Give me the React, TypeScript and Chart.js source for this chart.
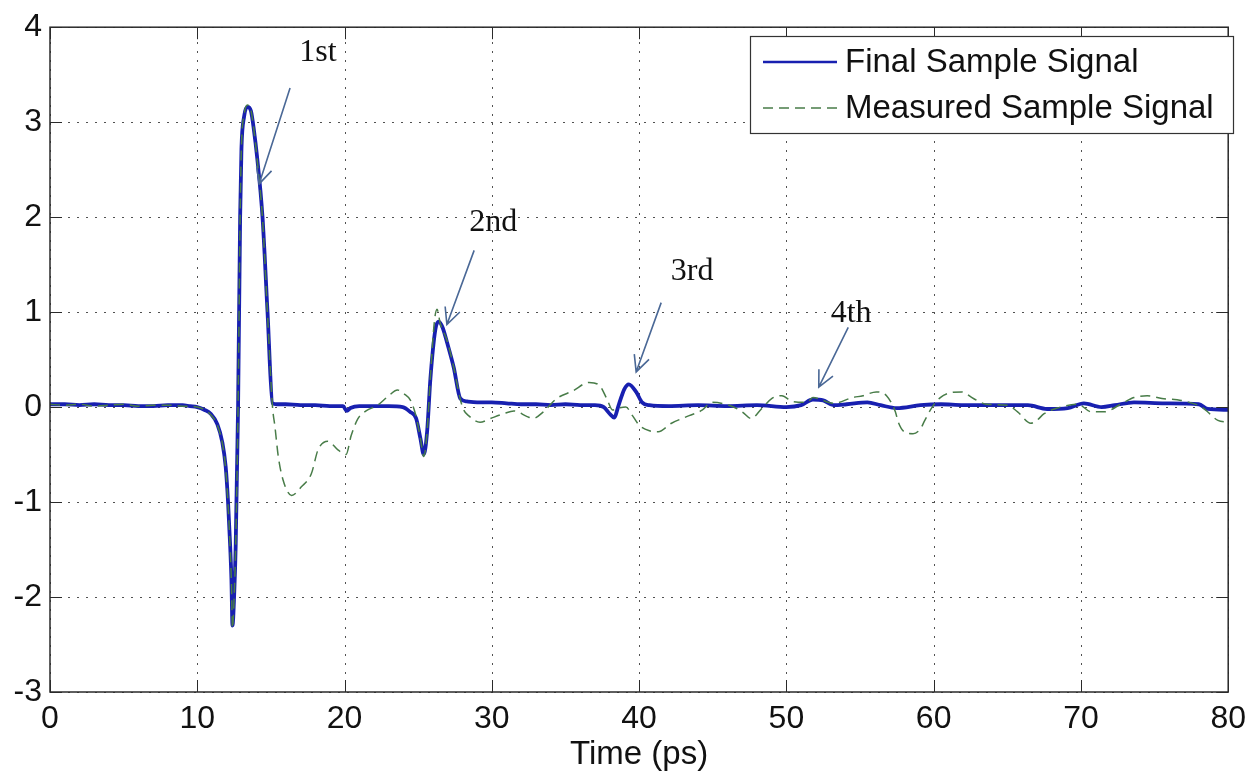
import React, { useEffect, useRef } from "react";
import { Chart, registerables } from "chart.js";

Chart.register(...registerables);

// ---------- data ----------
const finalTime = [
  0, 1, 2, 3, 4, 5, 6, 7, 8, 9, 9.5, 10, 10.5, 10.91, 11.36, 11.7, 11.93, 12.09, 12.23, 12.32,
  12.39, 12.5, 12.61, 12.77, 12.91, 13.0, 13.18, 13.41, 13.64, 13.86, 14.05, 14.43, 14.77, 15.11,
  15.4, 16, 17, 18, 19, 19.9, 20.15, 20.4, 21, 22, 23, 23.95, 24.45, 24.86, 25.15, 25.38, 25.61,
  25.83, 26.17, 26.4, 26.65, 26.96, 27.41, 27.86, 28.31, 29, 30, 31, 32, 33, 34, 35, 36, 37, 37.6,
  38.0, 38.3, 38.65, 39.0, 39.3, 39.8, 40.2, 40.7, 42, 44, 46, 48, 50, 51.0, 51.8, 52.5, 53.2,
  54.1, 55.5, 56.4, 57.5, 59.1, 60.5, 62, 63.2, 65, 66.4, 67.7, 69.1, 70.2, 71.4, 72.3, 73.6,
  75.7, 78, 78.6, 80,
];
const finalValue = [
  0.03, 0.03, 0.02, 0.03, 0.02, 0.02, 0.01, 0.01, 0.02, 0.02, 0.01, 0.0, -0.03, -0.07, -0.18, -0.37, -0.63, -1.0, -1.45, -1.82,
  -2.3, -2.0, -1.45, 0.0, 2.0, 2.72, 3.06, 3.16, 3.12, 2.9, 2.65, 2.0, 1.0, 0.04,
  0.03, 0.03, 0.02, 0.02, 0.01, 0.01, -0.04, -0.01, 0.01, 0.01, 0.01, 0.0, -0.05, -0.12, -0.33, -0.5, -0.25,
  0.3, 0.82, 0.9, 0.84, 0.68, 0.42, 0.09, 0.06, 0.05, 0.05, 0.04, 0.03, 0.03, 0.02, 0.03, 0.02, 0.02, 0.0,
  -0.07, -0.11, 0.04, 0.19, 0.24, 0.16, 0.05, 0.02, 0.01, 0.02, 0.01, 0.02, 0.0, 0.02, 0.08, 0.07, 0.02,
  0.03, 0.05, 0.02, -0.01, 0.02, 0.03, 0.02, 0.02, 0.02, 0.02, -0.02, -0.01, 0.04, 0.0, 0.02, 0.05,
  0.04, 0.03, -0.02, -0.03,
];
const measuredTime = [
  0, 1, 2, 3, 4, 5, 6, 7, 8, 9, 10, 10.5, 10.91, 11.36, 11.7, 11.93, 12.09, 12.23, 12.32, 12.39,
  12.5, 12.61, 12.77, 12.91, 13.0, 13.18, 13.41, 13.64, 13.86, 14.05, 14.43, 14.77, 15.11, 15.27,
  15.5, 15.83, 16.4, 17.07, 17.75, 18.2, 18.87, 19.55, 20.1, 20.45, 20.9, 21.46, 22.25, 22.93,
  23.6, 24.03, 24.48, 24.86, 25.15, 25.38, 25.61, 25.83, 26.1, 26.28, 26.5, 26.96, 27.41, 27.86,
  28.09, 28.42, 29.2, 29.9, 30.8, 31.5, 32.4, 32.8, 33.5, 34.4, 35.5, 36.6, 37.3, 37.8, 38.2,
  38.6, 39.1, 39.55, 40.0, 40.7, 41.3, 42.2, 43.4, 44.3, 44.9, 46.1, 47.0, 47.6, 48.3, 49.0, 49.7,
  50.4, 51.4, 51.8, 53.2, 54.5, 55.2, 56.1, 56.8, 57.4, 57.6, 58.0, 58.6, 59.1, 59.4, 59.9, 60.45,
  61.1, 61.9, 62.7, 63.6, 65.0, 65.7, 66.6, 67.0, 67.5, 68.4, 69.8, 70.7, 71.6, 72.7, 73.6, 74.5,
  75.5, 76.8, 78.2, 79.3, 80,
];
const measuredValue = [
  0.03, 0.02, 0.03, 0.01, 0.02, 0.03, 0.01, 0.02, 0.02, 0.01, 0.0, -0.03, -0.08, -0.19, -0.38, -0.65, -1.02, -1.48, -1.85, -2.33,
  -2.02, -1.45, 0.0, 2.02, 2.75, 3.08, 3.18, 3.13, 2.9, 2.63, 1.98, 0.98, 0.0, -0.2,
  -0.52, -0.77, -0.93, -0.84, -0.7, -0.45, -0.36, -0.45, -0.5, -0.3, -0.125, -0.04, 0.02, 0.11,
  0.18, 0.14, 0.07, -0.1, -0.33, -0.52, -0.25, 0.32, 0.9, 1.03, 0.88, 0.7, 0.42, 0.08,
  -0.03, -0.09, -0.16, -0.12, -0.07, -0.04, -0.1, -0.12, -0.05, 0.09, 0.17, 0.26, 0.23, 0.09, -0.03,
  -0.01, 0.0, -0.09, -0.19, -0.25, -0.26, -0.17, -0.09, -0.03, 0.05, 0.02, -0.05, -0.12, -0.02, 0.09, 0.12,
  0.06, 0.05, 0.1, 0.04, 0.1, 0.12, 0.16, 0.12, -0.05, -0.16, -0.26, -0.28, -0.23, -0.14, 0.0, 0.1,
  0.15, 0.16, 0.09, 0.03, 0.02, -0.05, -0.17, -0.14, -0.07, -0.01, 0.03, -0.05, -0.05, 0.03, 0.1, 0.12,
  0.09, 0.07, 0.0, -0.14, -0.16,
];
const seriesLabels = ["Final Sample Signal", "Measured Sample Signal"];
const xTickValues = [0, 10, 20, 30, 40, 50, 60, 70, 80];
const yTickValues = [-3, -2, -1, 0, 1, 2, 3, 4];
const xAxisTitle = "Time (ps)";
const peakLabels = ["1st", "2nd", "3rd", "4th"];

// annotation geometry (data units)
const peakTextAt = [
  [18.2, 3.73],
  [30.1, 1.94],
  [43.6, 1.43],
  [54.4, 0.98],
];
const peakArrowFrom = [
  [16.3, 3.36],
  [28.8, 1.65],
  [41.5, 1.1],
  [54.2, 0.84],
];
const peakArrowTo = [
  [14.2, 2.35],
  [26.95, 0.87],
  [39.8, 0.37],
  [52.2, 0.21],
];

const BLUE = "rgb(24,32,176)";
const GREEN = "rgb(72,124,72)";
const SANS = "'Liberation Sans', Arial, sans-serif";
const SERIF = "'Liberation Serif', 'Times New Roman', serif";

const matlabPlugin = {
  id: "matlabDecor",
  beforeDatasetsDraw(chart: any) {
    const { ctx, chartArea: a, scales } = chart;
    const xs = scales.x;
    const ys = scales.y;
    ctx.save();
    ctx.strokeStyle = "rgba(50,50,50,0.85)";
    ctx.lineWidth = 1;
    ctx.setLineDash([2, 7]);
    ctx.beginPath();
    for (const v of xTickValues) {
      const px = Math.round(xs.getPixelForValue(v)) + 0.5;
      ctx.moveTo(px, a.bottom);
      ctx.lineTo(px, a.top);
    }
    for (const v of yTickValues) {
      const py = Math.round(ys.getPixelForValue(v)) + 0.5;
      ctx.moveTo(a.left, py);
      ctx.lineTo(a.right, py);
    }
    ctx.stroke();
    ctx.restore();
  },
  afterDatasetsDraw(chart: any) {
    const { ctx, scales } = chart;
    const xs = scales.x;
    const ys = scales.y;
    ctx.save();
    ctx.strokeStyle = "rgb(74,104,150)";
    ctx.lineWidth = 1.6;
    for (let i = 0; i < peakLabels.length; i++) {
      const x1 = xs.getPixelForValue(peakArrowFrom[i][0]);
      const y1 = ys.getPixelForValue(peakArrowFrom[i][1]);
      const x2 = xs.getPixelForValue(peakArrowTo[i][0]);
      const y2 = ys.getPixelForValue(peakArrowTo[i][1]);
      ctx.beginPath();
      ctx.moveTo(x1, y1);
      ctx.lineTo(x2, y2);
      const ang = Math.atan2(y1 - y2, x1 - x2);
      const L = 18;
      const d = 0.45;
      ctx.moveTo(x2 + L * Math.cos(ang + d), y2 + L * Math.sin(ang + d));
      ctx.lineTo(x2, y2);
      ctx.lineTo(x2 + L * Math.cos(ang - d), y2 + L * Math.sin(ang - d));
      ctx.stroke();
      ctx.fillStyle = "#111";
      ctx.font = `32px ${SERIF}`;
      ctx.textAlign = "center";
      ctx.textBaseline = "middle";
      ctx.fillText(
        peakLabels[i],
        xs.getPixelForValue(peakTextAt[i][0]),
        ys.getPixelForValue(peakTextAt[i][1])
      );
    }
    ctx.restore();
  },
  afterDraw(chart: any) {
    const { ctx, chartArea: a, scales } = chart;
    const xs = scales.x;
    const ys = scales.y;
    ctx.save();
    ctx.strokeStyle = "#2a2a2a";
    ctx.lineWidth = 1.5;
    ctx.strokeRect(a.left, a.top, a.right - a.left, a.bottom - a.top);
    ctx.lineWidth = 1;
    const tl = 12;
    ctx.beginPath();
    for (const v of xTickValues) {
      const px = Math.round(xs.getPixelForValue(v)) + 0.5;
      ctx.moveTo(px, a.bottom);
      ctx.lineTo(px, a.bottom - tl);
      ctx.moveTo(px, a.top);
      ctx.lineTo(px, a.top + tl);
    }
    for (const v of yTickValues) {
      const py = Math.round(ys.getPixelForValue(v)) + 0.5;
      ctx.moveTo(a.left, py);
      ctx.lineTo(a.left + tl, py);
      ctx.moveTo(a.right, py);
      ctx.lineTo(a.right - tl, py);
    }
    ctx.stroke();

    // legend
    const lx = 750, ly = 36, lw = 483, lh = 97;
    ctx.fillStyle = "#fff";
    ctx.fillRect(lx, ly, lw, lh);
    ctx.strokeStyle = "#333";
    ctx.lineWidth = 1.2;
    ctx.strokeRect(lx + 0.5, ly + 0.5, lw, lh);
    const rows = [62, 108];
    ctx.font = `33px ${SANS}`;
    ctx.textAlign = "left";
    ctx.textBaseline = "middle";
    for (let i = 0; i < seriesLabels.length; i++) {
      ctx.beginPath();
      if (i === 0) {
        ctx.strokeStyle = BLUE;
        ctx.lineWidth = 2.5;
        ctx.setLineDash([]);
      } else {
        ctx.strokeStyle = GREEN;
        ctx.lineWidth = 1.5;
        ctx.setLineDash([10, 6]);
      }
      ctx.moveTo(763, rows[i]);
      ctx.lineTo(837, rows[i]);
      ctx.stroke();
      ctx.setLineDash([]);
      ctx.fillStyle = "#111";
      ctx.fillText(seriesLabels[i], 845, rows[i] + 1);
    }
    ctx.restore();
  },
};

export default function App() {
  const ref = useRef<HTMLCanvasElement | null>(null);
  useEffect(() => {
    document.body.style.margin = "0";
    const canvas = ref.current!;
    const chart = new Chart(canvas, {
      type: "line",
      data: {
        datasets: [
          {
            label: seriesLabels[0],
            data: finalTime.map((t, i) => ({ x: t, y: finalValue[i] })),
            borderColor: BLUE,
            borderWidth: 3.8,
            pointRadius: 0,
            fill: false,
            cubicInterpolationMode: "monotone",
            order: 2,
          },
          {
            label: seriesLabels[1],
            data: measuredTime.map((t, i) => ({ x: t, y: measuredValue[i] })),
            borderColor: GREEN,
            borderWidth: 1.5,
            borderDash: [10, 6],
            pointRadius: 0,
            fill: false,
            cubicInterpolationMode: "monotone",
            order: 1,
          },
        ],
      },
      options: {
        animation: false,
        responsive: false,
        devicePixelRatio: 1,
        layout: { padding: { top: 23, right: 16, left: 0, bottom: 0 } },
        plugins: { legend: { display: false }, tooltip: { enabled: false } },
        scales: {
          x: {
            type: "linear",
            min: 0,
            max: 80,
            afterBuildTicks: (s: any) => {
              s.ticks = xTickValues.map((v) => ({ value: v }));
            },
            afterFit: (s: any) => {
              s.height = 85;
            },
            border: { display: false },
            grid: { display: false, drawTicks: false },
            ticks: {
              padding: 8,
              maxRotation: 0,
              color: "#111",
              font: { size: 32, family: SANS },
            },
            title: {
              display: true,
              text: xAxisTitle,
              color: "#111",
              font: { size: 33, family: SANS },
              padding: { top: 0, bottom: 2 },
            },
          },
          y: {
            type: "linear",
            min: -3,
            max: 4,
            afterBuildTicks: (s: any) => {
              s.ticks = yTickValues.map((v) => ({ value: v }));
            },
            afterFit: (s: any) => {
              s.width = 50;
            },
            border: { display: false },
            grid: { display: false, drawTicks: false },
            ticks: {
              padding: 8,
              color: "#111",
              font: { size: 32, family: SANS },
            },
          },
        },
      },
      plugins: [matlabPlugin],
    } as any);
    return () => chart.destroy();
  }, []);
  return (
    <canvas
      ref={ref}
      width={1254}
      height={777}
      style={{ display: "block", width: 1254, height: 777 }}
    />
  );
}
